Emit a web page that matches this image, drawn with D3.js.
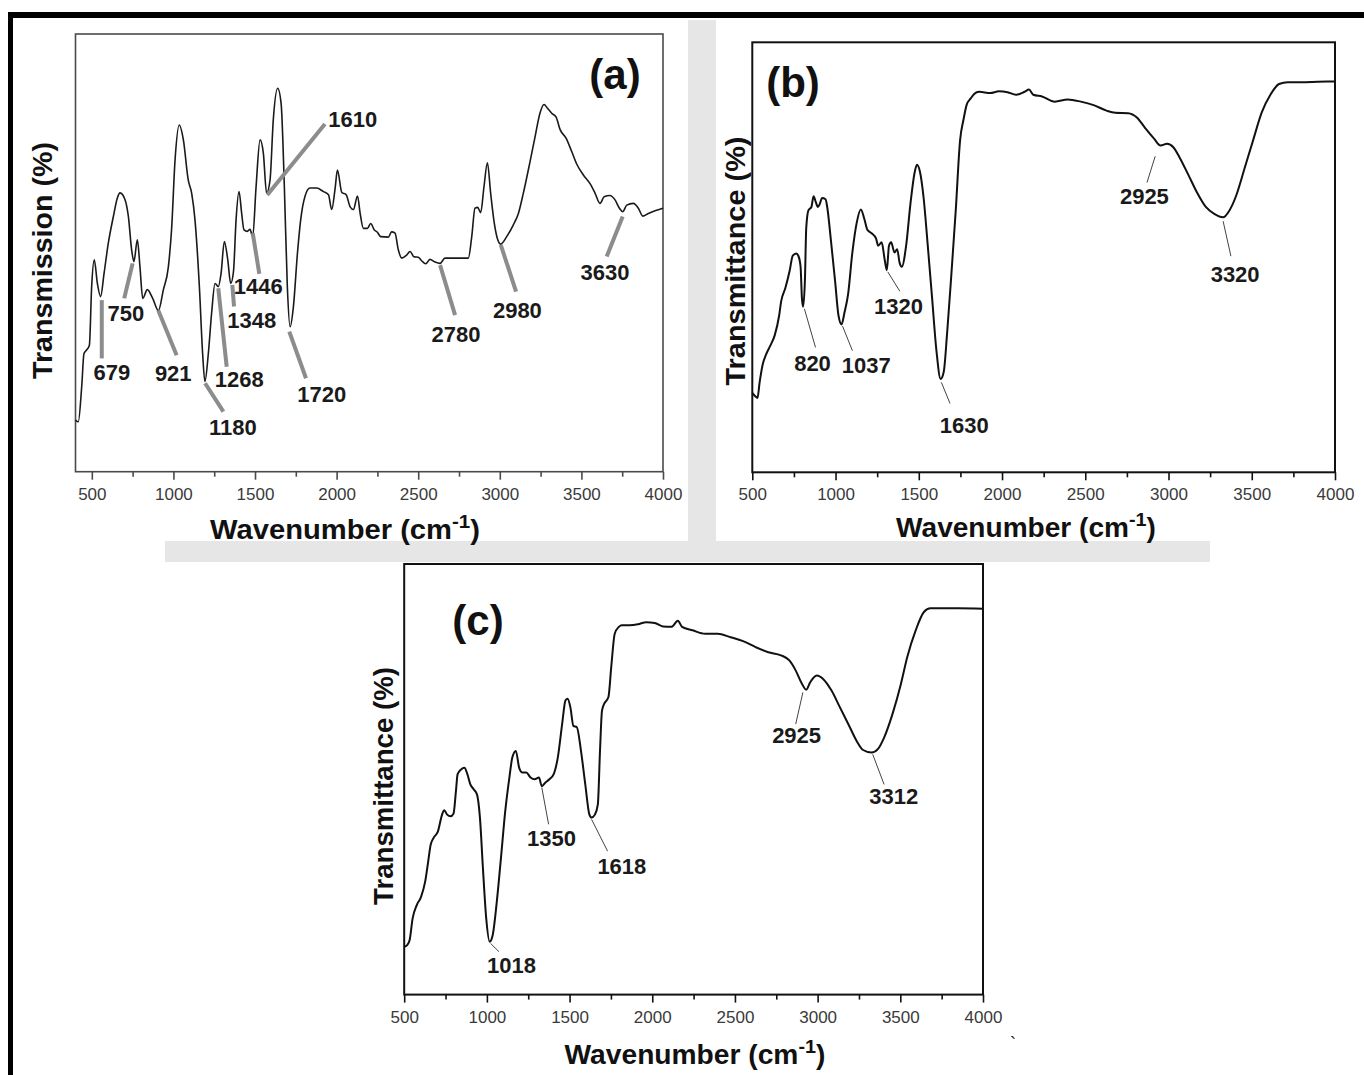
<!DOCTYPE html>
<html><head><meta charset="utf-8">
<script src="https://cdn.jsdelivr.net/npm/d3@7"></script>
<style>body{margin:0;background:#fff}svg{display:block}text{font-family:"Liberation Sans",Arial,sans-serif}</style>
</head><body>
<svg id="chart" width="1364" height="1075"></svg>
<script>
// ---------------- DATA ----------------
const xMajorTicks = [500,1000,1500,2000,2500,3000,3500,4000];
const xMinorTicks = [750,1250,1750,2250,2750,3250,3750];

// Panel (a): wavenumber (cm-1) / transmission (%, relative)
const aWave = [400,417,438,452,468,485,499,515,534,554,575,601,632,656,673,703,724,744,758,779,795,812,840,873,908,938,969,989,1010,1036,1061,1091,1112,1132,1159,1179,1193,1214,1234,1255,1275,1292,1312,1333,1351,1368,1384,1402,1418,1432,1453,1469,1486,1506,1531,1551,1571,1592,1612,1639,1660,1680,1698,1715,1735,1760,1780,1807,1837,1878,1919,1950,1970,1991,2005,2032,2058,2083,2103,2128,2144,2164,2189,2209,2230,2250,2270,2317,2337,2358,2378,2399,2429,2450,2474,2501,2521,2546,2572,2603,2634,2664,2736,2807,2828,2848,2864,2883,2903,2924,2944,2965,2985,3005,3042,3083,3114,3144,3185,3216,3246,3271,3291,3318,3345,3369,3406,3440,3471,3512,3553,3584,3614,3639,3675,3706,3733,3753,3778,3818,3849,3876,3910,3951,4000];
const aTrans = [11.8,11.4,19.4,27.0,27.8,28.9,42.3,48.4,43.0,40.0,45.3,52.2,58.3,62.5,63.7,62.2,58.3,50.7,48.0,53.0,46.8,39.6,41.6,39.6,36.8,41.5,46.8,55.5,71.2,79.2,75.8,66.6,63.6,57.6,42.3,27.0,20.6,27.0,36.2,43.0,42.3,45.3,52.6,48.4,43.0,45.7,57.6,64.0,59.1,55.3,54.9,55.4,53.7,64.8,75.8,72.8,63.6,66.6,80.4,87.6,84.1,64.8,42.3,33.1,37.6,49.9,57.6,63.0,64.8,64.8,64.0,63.3,59.9,64.8,68.9,63.8,63.3,60.5,59.9,63.0,59.1,55.6,55.6,56.7,55.3,54.7,53.7,53.6,54.8,54.5,50.7,48.8,49.5,50.3,49.1,49.0,48.2,47.5,48.5,47.9,47.6,48.8,48.8,48.8,53.7,60.2,60.4,59.2,65.1,70.6,63.6,57.1,53.3,52.0,53.7,56.4,59.0,63.6,70.8,76.5,81.9,83.9,83.1,81.9,81.0,78.2,76.2,73.2,70.3,67.8,65.8,63.6,61.3,62.8,63.1,62.1,60.2,59.4,60.9,61.3,60.2,58.4,59.0,59.6,60.2];
const aPeakLabels = ["679","750","921","1180","1268","1348","1446","1610","1720","2780","2980","3630"];
const aPeakWave   = [561,750,907,1194,1275,1361,1486,1575,1710,2634,3006,3753];
const aPeakTrans  = [39.2,47.6,36.9,20.2,41.9,42.7,54.5,63.2,32.0,47.2,51.8,58.3];

// Panel (b)
const bWave = [500,518,531,544,562,583,609,635,661,673,699,725,743,764,777,790,798,805,816,824,837,855,868,881,894,906,919,940,950,971,997,1018,1036,1054,1075,1101,1127,1152,1173,1191,1217,1243,1256,1277,1295,1308,1321,1334,1354,1370,1385,1398,1424,1450,1476,1489,1507,1528,1554,1580,1606,1631,1650,1670,1696,1722,1748,1769,1787,1813,1839,1864,1929,1981,2033,2084,2136,2162,2188,2240,2317,2395,2473,2550,2628,2680,2758,2810,2861,2913,2952,2991,3029,3068,3120,3172,3224,3275,3327,3366,3405,3457,3508,3560,3612,3664,3716,3793,3897,4000];
const bTrans = [18.5,17.7,17.3,20.9,25.0,27.4,29.5,31.9,36.4,39.7,42.9,47.0,50.4,50.9,50.3,47.8,40.5,38.5,44.6,56.8,60.9,61.7,64.2,62.9,61.7,62.5,63.8,63.5,61.7,54.4,44.6,36.4,34.4,37.2,41.3,51.1,58.0,61.1,58.9,56.4,55.6,54.4,52.7,53.5,49.5,47.0,52.7,53.5,51.1,51.9,48.7,47.8,52.7,62.5,69.9,71.5,69.9,64.2,52.7,40.5,28.3,21.7,23.4,32.3,46.2,60.9,77.2,82.1,85.4,87.0,88.2,88.5,88.2,88.6,88.4,87.8,88.5,89.0,87.8,87.4,86.2,86.7,86.2,85.4,84.1,83.6,83.5,82.5,80.0,77.6,76.0,76.4,75.6,73.1,69.1,65.0,61.7,60.1,59.3,60.9,64.2,70.7,77.2,83.7,87.8,90.3,90.7,90.7,90.8,90.9];
const bPeakLabels = ["820","1037","1320","1630","2925","3320"];
const bPeakWave   = [813,1042,1314,1636,2920,3328];
const bPeakTrans  = [38.0,34.0,46.6,20.9,73.5,58.4];

// Panel (c)
const cWave = [500,518,533,551,576,602,627,645,660,678,704,729,742,760,780,798,813,823,844,864,882,900,920,940,958,976,996,1017,1035,1060,1085,1111,1136,1154,1175,1195,1213,1238,1264,1289,1315,1332,1353,1378,1404,1429,1455,1475,1488,1505,1523,1544,1569,1595,1620,1633,1653,1671,1684,1696,1709,1735,1752,1773,1798,1816,1862,1913,1964,2015,2065,2116,2155,2180,2244,2320,2396,2473,2549,2625,2702,2778,2829,2867,2905,2931,2956,2995,3033,3084,3135,3186,3236,3275,3326,3364,3402,3453,3504,3542,3593,3644,3682,3746,3848,4000];
const cTrans = [11.1,11.5,12.7,17.7,20.8,22.7,26.3,30.9,34.8,36.4,37.9,41.8,42.8,41.8,41.4,42.0,47.3,51.2,52.3,52.7,51.2,48.8,47.7,46.5,41.1,29.4,17.7,12.3,13.8,21.6,31.7,42.6,50.4,55.1,56.6,52.7,51.6,51.6,50.4,50.0,50.4,48.4,49.2,50.0,51.2,55.1,62.8,68.3,68.7,66.7,62.4,62.1,56.6,48.8,41.8,41.1,41.8,44.2,56.6,65.9,67.5,69.1,76.1,83.8,85.4,85.8,85.8,86.0,86.5,86.3,85.5,85.4,86.8,85.4,84.6,83.8,83.8,83.0,82.1,80.7,79.5,78.8,77.6,75.3,72.2,70.8,72.6,74.1,73.3,70.6,66.7,62.8,58.9,56.8,56.2,57.0,59.7,65.2,72.2,78.4,84.6,88.9,89.7,89.7,89.7,89.6];
const cPeakLabels = ["1018","1350","1618","2925","3312"];
const cPeakWave   = [1022,1332,1633,2911,3333];
const cPeakTrans  = [11.9,48.1,40.7,70.2,55.8];

// ---------------- LAYOUT ----------------
const panels = [
  {id:"a", wave:aWave, trans:aTrans, xDomain:[400,4000], x0:75.5, x1:663, y0:34, y1:471.7,
   frameColor:"#4a4a4a", frameW:1.6, lineW:1.6, lineColor:"#1a1a1a",
   yTitle:"Transmission (%)", yTitlePos:[42.5,260.5], yTitleLen:237,
   xTitlePos:[345,529], xTitleLen:270, labelY:494.5,
   letter:"(a)", letterPos:[615,74],
   peaks:{labels:aPeakLabels, wave:aPeakWave, trans:aPeakTrans,
     lead:[[0,58.3],[-8.4,35],[18.4,45],[18.3,28.4],[8.4,78.4],[1.7,21.7],[6.6,40.7],[57.7,-71],[16.7,46.6],[15,50],[15.3,46.7],[-16,40]],
     text:[[10,71.7],[-6.7,50],[15,63.3],[27.7,44],[21,91],[19.4,35],[5.6,53.4],[85.4,-76],[32.4,62.6],[16,69],[16.6,65],[-17.7,56]],
     leadColor:"#8c8c8c", leadW:4}},
  {id:"b", wave:bWave, trans:bTrans, xDomain:[500,4000], x0:752.3, x1:1335, y0:42.3, y1:472.3,
   frameColor:"#111", frameW:2, lineW:2, lineColor:"#111",
   yTitle:"Transmittance (%)", yTitlePos:[735,261], yTitleLen:249,
   xTitlePos:[1026,527], xTitleLen:260, labelY:494,
   letter:"(b)", letterPos:[793,82],
   peaks:{labels:bPeakLabels, wave:bPeakWave, trans:bPeakTrans,
     lead:[[11.1,38.5],[9.9,24.6],[12,19.3],[8.6,21.1],[-8.2,26.3],[7.8,35]],
     text:[[8.1,54.3],[23.7,38.6],[10.7,34.1],[22.8,42.8],[-10.8,39.6],[12,52.6]],
     leadColor:"#444", leadW:1}},
  {id:"c", wave:cWave, trans:cTrans, xDomain:[500,4000], x0:404.2, x1:983, y0:564, y1:994.6,
   frameColor:"#111", frameW:2, lineW:2, lineColor:"#111",
   yTitle:"Transmittance (%)", yTitlePos:[383,786], yTitleLen:238,
   xTitlePos:[695,1054], xTitleLen:261, labelY:1017,
   letter:"(c)", letterPos:[478,620],
   peaks:{labels:cPeakLabels, wave:cPeakWave, trans:cPeakTrans,
     lead:[[8.4,8.3],[6.8,36.8],[16,31.8],[-7.2,31.8],[11.4,30.1]],
     text:[[21,21.7],[9.7,50.2],[30.3,46.9],[-6.3,42.5],[21.1,41.9]],
     leadColor:"#444", leadW:1}}
];

const svg = d3.select("#chart");

// faint watermark remnants (behind panels)
const wm = svg.append("g").attr("fill","#e6e6e6");
wm.append("rect").attr("x",688).attr("y",20).attr("width",28).attr("height",525);
wm.append("rect").attr("x",165).attr("y",541).attr("width",1045).attr("height",21);

// white panel backgrounds
svg.append("rect").attr("x",13).attr("y",18).attr("width",675).attr("height",523).attr("fill","#fff");
svg.append("rect").attr("x",716).attr("y",36).attr("width",648).attr("height",505).attr("fill","#fff");
svg.append("rect").attr("x",376).attr("y",562).attr("width",627).attr("height",513).attr("fill","#fff");

// outer black border (top & left)
svg.append("rect").attr("x",8).attr("y",12).attr("width",1356).attr("height",6).attr("fill","#000");
svg.append("rect").attr("x",8).attr("y",12).attr("width",5).attr("height",1063).attr("fill","#000");

function fitX(sel, target){
  const n = sel.node(); const w = n.getBBox().width;
  return w ? target/w : 1;
}

panels.forEach(p => {
  const g = svg.append("g");
  const x = d3.scaleLinear().domain(p.xDomain).range([p.x0,p.x1]);
  const y = d3.scaleLinear().domain([0,100]).range([p.y1,p.y0]);
  const pts = p.wave.map((w,i)=>[w,p.trans[i]]);

  // frame
  g.append("rect").attr("x",p.x0).attr("y",p.y0).attr("width",p.x1-p.x0).attr("height",p.y1-p.y0)
    .attr("fill","none").attr("stroke",p.frameColor).attr("stroke-width",p.frameW);

  // axes
  const fs = 17, tickLen = 8;
  const pad = (p.labelY - p.y1) - 0.358*fs - tickLen;
  const ax = g.append("g").attr("transform",`translate(0,${p.y1})`)
    .call(d3.axisBottom(x).tickValues(xMajorTicks).tickSize(tickLen).tickPadding(pad).tickFormat(d3.format("d")));
  ax.select(".domain").remove();
  ax.selectAll("line").attr("stroke",p.frameColor).attr("stroke-width",1.6);
  ax.selectAll("text").attr("fill","#3a3a3a").attr("font-size",fs).attr("font-family","Liberation Sans, Arial, sans-serif");
  const axm = g.append("g").attr("transform",`translate(0,${p.y1})`)
    .call(d3.axisBottom(x).tickValues(xMinorTicks).tickSize(5).tickFormat(""));
  axm.select(".domain").remove();
  axm.selectAll("line").attr("stroke",p.frameColor).attr("stroke-width",1.6);

  // spectrum
  g.append("path").datum(pts)
    .attr("d", d3.line().x(d=>x(d[0])).y(d=>y(d[1])).curve(d3.curveMonotoneX))
    .attr("fill","none").attr("stroke",p.lineColor).attr("stroke-width",p.lineW).attr("stroke-linejoin","round");

  // peak annotations
  const pk = p.peaks;
  pk.labels.forEach((lab,i)=>{
    const ax0 = x(pk.wave[i]), ay0 = y(pk.trans[i]);
    g.append("line").attr("x1",ax0).attr("y1",ay0)
      .attr("x2",ax0+pk.lead[i][0]).attr("y2",ay0+pk.lead[i][1])
      .attr("stroke",pk.leadColor).attr("stroke-width",pk.leadW);
    g.append("text").attr("x",ax0+pk.text[i][0]).attr("y",ay0+pk.text[i][1]).attr("dy","0.36em")
      .attr("text-anchor","middle").attr("font-size",22).attr("font-weight","bold").attr("fill","#1a1a1a")
      .text(lab);
  });

  // panel letter
  g.append("text").attr("x",p.letterPos[0]).attr("y",p.letterPos[1]).attr("dy","0.36em")
    .attr("text-anchor","middle").attr("font-size",42).attr("font-weight","bold").attr("fill","#111").text(p.letter);

  // y title
  const yt = g.append("text").attr("text-anchor","middle").attr("dy","0.36em")
    .attr("font-size",27).attr("font-weight","bold").attr("fill","#111").text(p.yTitle);
  const sy = fitX(yt, p.yTitleLen);
  yt.attr("transform",`translate(${p.yTitlePos[0]},${p.yTitlePos[1]}) rotate(-90) scale(${sy},1)`);

  // x title
  const xt = g.append("text").attr("text-anchor","middle").attr("dy","0.36em")
    .attr("font-size",27).attr("font-weight","bold").attr("fill","#111");
  xt.append("tspan").text("Wavenumber (cm");
  xt.append("tspan").attr("font-size",19).attr("dy",-11).text("-1");
  xt.append("tspan").attr("dy",11).text(")");
  const sx = fitX(xt, p.xTitleLen);
  xt.attr("transform",`translate(${p.xTitlePos[0]},${p.xTitlePos[1]}) scale(${sx},1)`);
});

// stray mark in the original
svg.append("text").attr("x",1010).attr("y",1050).attr("font-size",18).attr("fill","#222").text("`");
</script>
</body></html>
